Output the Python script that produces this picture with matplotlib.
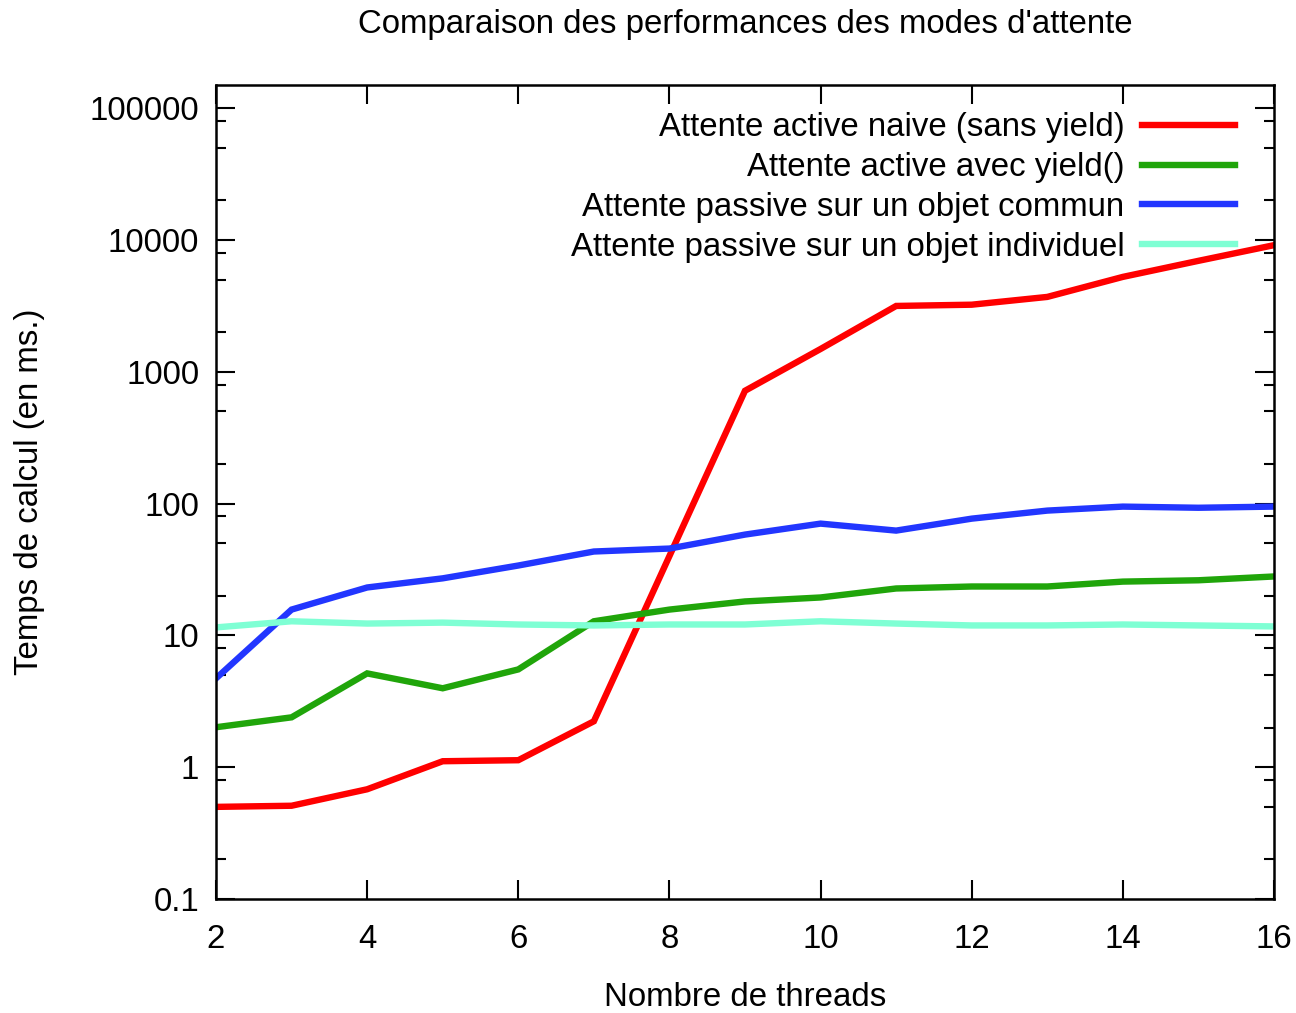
import numpy as np
import matplotlib.pyplot as plt
from matplotlib.ticker import LogLocator, FixedLocator, FuncFormatter

plt.rcParams['font.family'] = ['Liberation Sans', 'DejaVu Sans']
plt.rcParams.update({'font.size': 23.8})

threads = [2, 3, 4, 5, 6, 7, 8, 9, 10, 11, 12, 13, 14, 15, 16]

naive = [0.50, 0.51, 0.68, 1.11, 1.13, 2.23, 40, 718, 1490, 3160, 3230, 3700, 5250, 6950, 9140]
yield_ = [2.01, 2.39, 5.15, 3.97, 5.52, 12.8, 15.7, 18.1, 19.4, 22.7, 23.5, 23.5, 25.6, 26.2, 28.0]
commun = [4.72, 15.7, 23.1, 27.1, 33.9, 43.3, 45.6, 58.2, 70.5, 62.4, 76.9, 88.5, 94.9, 93.0, 94.9]
individuel = [11.5, 12.8, 12.3, 12.5, 12.1, 11.9, 12.1, 12.1, 12.8, 12.3, 11.9, 11.9, 12.1, 11.9, 11.7]

labels = ["Attente active naive (sans yield)",
          "Attente active avec yield()",
          "Attente passive sur un objet commun",
          "Attente passive sur un objet individuel"]
colors = ["#ff0000", "#20a50a", "#2236ff", "#7fffd4"]

fig = plt.figure(figsize=(12.96, 10.13), dpi=100)
ax = fig.add_axes([216/1296, 1 - 899/1013, (1274-216)/1296, (899-85)/1013])

for ys, lab, c in zip([naive, yield_, commun, individuel], labels, colors):
    ax.plot(threads, ys, color=c, lw=4.6, label=lab, solid_joinstyle='miter')

ax.set_yscale('log')
ax.set_xlim(2, 16)
ax.set_ylim(0.1, 150000)
ax.set_xticks(range(2, 17, 2))
ax.yaxis.set_major_locator(FixedLocator([0.1, 1, 10, 100, 1000, 10000, 100000]))
ax.yaxis.set_minor_locator(LogLocator(base=10, subs=[2, 5, 8]))
ax.yaxis.set_major_formatter(FuncFormatter(lambda v, p: f"{v:g}" if v < 1 else f"{int(round(v))}"))
ax.yaxis.set_minor_formatter(FuncFormatter(lambda v, p: ""))

ax.tick_params(which='both', direction='in', top=True, right=True, width=1.5)
ax.tick_params(which='major', length=14)
ax.tick_params(which='minor', length=7)
ax.tick_params(axis='y', pad=12)
ax.tick_params(axis='x', pad=18)
for s in ax.spines.values():
    s.set_linewidth(1.8)

fig.text(745/1296, 1 - 24/1013, "Comparaison des performances des modes d'attente",
         ha='center', va='center')
fig.text(745/1296, 1 - 997/1013, "Nombre de threads", ha='center', va='center')
fig.text(30/1296, 1 - 492/1013, "Temps de calcul (en ms.)", ha='center', va='center',
         rotation=90)

ax.legend(loc='upper right', frameon=False, markerfirst=False,
          handlelength=2.8, handletextpad=0.55, labelspacing=0.27,
          borderaxespad=0.3, bbox_to_anchor=(0.985, 0.995))

fig.savefig("out.png", dpi=100)
